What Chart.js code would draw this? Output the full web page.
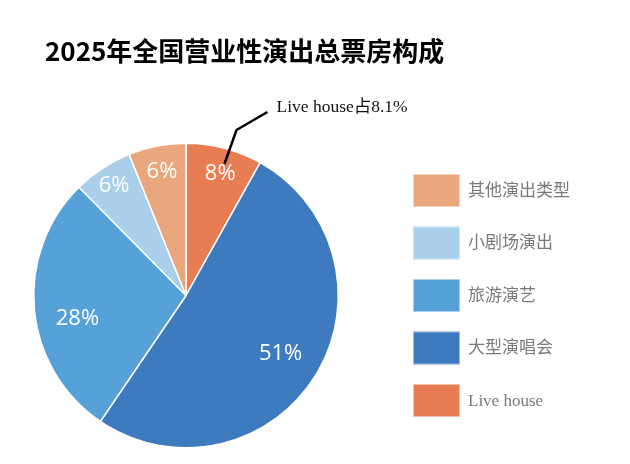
<!DOCTYPE html>
<html>
<head>
<meta charset="utf-8">
<script src="https://cdn.jsdelivr.net/npm/chart.js@4"></script>
<style>
  body { margin: 0; background: #fff; }
  #wrap { width: 630px; height: 464px; position: relative; }
</style>
</head>
<body>
<div id="wrap"><canvas id="pie"></canvas></div>
<script>
// data, clockwise from 12 o'clock
const categories = ["Live house", "大型演唱会", "旅游演艺", "小剧场演出", "其他演出类型"];
const shares = [8.1, 51.4, 28.1, 6.3, 6.1];
const colors = ["#E87D54", "#3D7ABE", "#56A1D8", "#A9CFEA", "#EAA67C"];
const titleText = "2025年全国营业性演出总票房构成";
const noteText = "Live house占8.1%";

// label placement tweaks (radius fraction, angle shift) like the original
const labelPos = [[0.83, 0.02], [0.73, 0], [0.73, -0.124], [0.86, 0], [0.83, 0]];

// title, slice labels, leader line and legend
const extras = {
  id: "extras",
  afterDraw(chart) {
    const ctx = chart.ctx;
    const arcs = chart.getDatasetMeta(0).data;
    ctx.save();

    // title
    ctx.fillStyle = "#000";
    ctx.font = "bold 26px 'Noto Sans CJK SC', 'Noto Sans'";
    ctx.textBaseline = "middle";
    ctx.textAlign = "left";
    ctx.fillText(titleText, 45, 51);

    // percent labels inside slices
    ctx.font = "22px 'Open Sans'";
    ctx.fillStyle = "#fff";
    ctx.textAlign = "center";
    arcs.forEach((arc, i) => {
      const p = arc.getProps(["x", "y", "startAngle", "endAngle", "outerRadius"], true);
      const mid = (p.startAngle + p.endAngle) / 2 + labelPos[i][1];
      const x = p.x + Math.cos(mid) * p.outerRadius * labelPos[i][0];
      const y = p.y + Math.sin(mid) * p.outerRadius * labelPos[i][0];
      ctx.fillText(Math.round(shares[i]) + "%", x, y);
    });

    // leader line for live house
    const a = arcs[0].getProps(["x", "y", "startAngle", "endAngle", "outerRadius"], true);
    const m = (a.startAngle + a.endAngle) / 2 + 0.03;
    const x0 = a.x + Math.cos(m) * a.outerRadius * 0.9;
    const y0 = a.y + Math.sin(m) * a.outerRadius * 0.9;
    ctx.strokeStyle = "#000";
    ctx.lineWidth = 2.5;
    ctx.beginPath();
    ctx.moveTo(x0, y0);
    ctx.lineTo(x0 + 12, y0 - 34);
    ctx.lineTo(x0 + 43, y0 - 52);
    ctx.stroke();
    ctx.fillStyle = "#111";
    ctx.font = "17.5px 'Liberation Serif', 'Noto Sans CJK SC'";
    ctx.textAlign = "left";
    ctx.textBaseline = "alphabetic";
    ctx.fillText(noteText, x0 + 52, y0 - 52);

    // legend, reversed order
    ctx.font = "17px 'Liberation Serif', 'Noto Sans CJK SC'";
    ctx.textBaseline = "middle";
    for (let j = 0; j < categories.length; j++) {
      const i = categories.length - 1 - j;
      const cy = 190.5 + j * 52.5;
      ctx.fillStyle = colors[i];
      ctx.fillRect(413, cy - 16.5, 47, 33);
      ctx.strokeStyle = "rgba(255,255,255,0.5)";
      ctx.lineWidth = 1;
      ctx.strokeRect(413.5, cy - 16, 46, 32);
      ctx.fillStyle = "#7a7a7a";
      ctx.fillText(categories[i], 468, cy + 1);
    }
    ctx.restore();
  }
};

new Chart(document.getElementById("pie"), {
  type: "pie",
  data: {
    labels: categories,
    datasets: [{
      data: shares,
      backgroundColor: colors,
      borderColor: "#fff",
      borderWidth: 1.5
    }]
  },
  options: {
    responsive: true,
    maintainAspectRatio: false,
    animation: false,
    layout: { padding: { left: 33, top: 142, right: 291, bottom: 15 } },
    plugins: {
      legend: { display: false },
      tooltip: { enabled: false }
    }
  },
  plugins: [extras]
});
</script>
</body>
</html>
